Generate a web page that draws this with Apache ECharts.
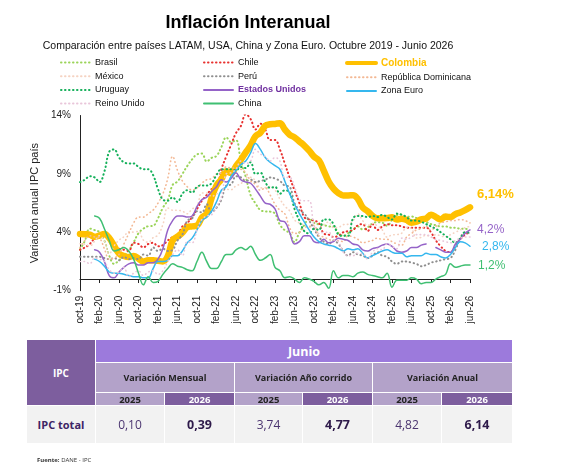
<!DOCTYPE html>
<html>
<head>
<meta charset="utf-8">
<script src="https://cdn.jsdelivr.net/npm/echarts@6/dist/echarts.min.js"></script>
<style>
  body { margin: 0; background: #fff; }
  #wrap { position: relative; width: 562px; height: 475px; overflow: hidden; background: #fff; }
  #chart { position: absolute; left: 0; top: 0; width: 562px; height: 338px; }
  #table { position: absolute; left: 0; top: 0; width: 562px; height: 475px; font-family: "Open Sans", "Noto Sans", sans-serif; }
  .c { position: absolute; display: flex; align-items: center; justify-content: center; box-sizing: border-box; white-space: nowrap; }
  #fuente { position: absolute; left: 37px; top: 456px; font-size: 6px; color: #333; font-family: "Open Sans", sans-serif; }
</style>
</head>
<body>
<div id="wrap">
  <div id="chart"></div>
  <div id="table"></div>
  <div id="fuente"><b>Fuente:</b> DANE - IPC</div>
</div>
<script>
// ---- data (oct-19 .. jun-26, monthly) ----
var monthNames = ['ene', 'feb', 'mar', 'abr', 'may', 'jun', 'jul', 'ago', 'sep', 'oct', 'nov', 'dic'];
var categories = [];
for (var y = 2019; y <= 2026; y++) {
    for (var m = 0; m < 12; m++) {
        if ((y === 2019 && m < 9) || (y === 2026 && m > 5)) continue;
        categories.push(monthNames[m] + '-' + String(y).slice(2));
    }
}

var brasil = [2.54, 3.27, 4.31,
    4.19, 4.01, 3.30, 2.00, 1.30, 1.60, 2.00, 2.44, 3.14, 3.92, 4.31, 4.52,
    4.56, 5.20, 6.10, 6.76, 8.06, 8.35, 8.99, 9.68, 10.25, 10.67, 10.74, 10.06,
    10.38, 10.54, 11.30, 12.13, 11.73, 11.89, 10.07, 8.73, 7.17, 6.47, 5.90, 5.79,
    5.77, 5.60, 4.65, 4.18, 3.94, 3.16, 3.99, 4.61, 5.19, 4.82, 4.68, 4.62,
    4.51, 4.50, 3.93, 3.69, 3.93, 4.23, 4.50, 4.24, 4.42, 4.76, 4.87, 4.83,
    4.56, 5.06, 5.48, 5.53, 5.32, 5.35, 5.23, 5.13, 4.90, 4.70, 4.60, 4.50,
    4.50, 4.40, 4.40, 4.30, 4.30, 4.20];
var chile = [2.5, 2.7, 3.0,
    3.5, 3.9, 3.7, 3.4, 2.8, 2.6, 2.5, 2.4, 3.1, 3.0, 2.7, 3.0,
    3.1, 2.8, 2.9, 3.3, 3.6, 3.8, 4.5, 4.8, 5.3, 6.0, 6.7, 7.2,
    7.7, 7.8, 9.4, 10.5, 11.5, 12.5, 13.1, 14.1, 13.7, 12.8, 13.3, 12.8,
    11.9, 11.9, 11.1, 9.9, 8.7, 7.6, 6.5, 5.3, 5.1, 5.0, 4.8, 3.9,
    3.8, 3.6, 3.7, 4.0, 4.1, 4.2, 4.6, 4.7, 4.1, 4.7, 4.2, 4.5,
    4.7, 4.6, 4.6, 4.5, 4.4, 4.4, 4.4, 4.4, 4.4, 4.0, 3.3, 2.8,
    2.4, 2.3, 2.8, 3.4, 3.8, 4.0];
var colombia = [3.86, 3.84, 3.80,
    3.62, 3.72, 3.86, 3.51, 2.85, 2.19, 1.97, 1.88, 1.97, 1.75, 1.49, 1.61,
    1.60, 1.56, 1.51, 1.95, 3.30, 3.63, 3.97, 4.44, 4.51, 4.58, 5.26, 5.62,
    6.94, 8.01, 8.53, 9.23, 9.07, 9.67, 10.21, 10.84, 11.44, 12.22, 12.53, 13.12,
    13.25, 13.28, 13.34, 12.82, 12.36, 12.13, 11.78, 11.43, 10.99, 10.48, 10.15, 9.28,
    8.35, 7.74, 7.36, 7.16, 7.16, 7.18, 6.86, 6.12, 5.81, 5.41, 5.20, 5.20,
    5.22, 5.28, 5.09, 5.16, 5.05, 4.82, 4.90, 5.10, 5.18, 5.51, 5.30, 5.10,
    5.35, 5.30, 5.55, 5.70, 5.90, 6.14];
var mexico = [3.02, 2.97, 2.83,
    3.24, 3.70, 3.25, 2.15, 2.84, 3.33, 3.62, 4.05, 4.01, 4.09, 3.33, 3.15,
    3.54, 3.76, 4.67, 6.08, 5.89, 5.88, 5.81, 5.59, 6.00, 6.24, 7.37, 7.36,
    7.07, 7.28, 7.45, 7.68, 7.65, 7.99, 8.15, 8.70, 8.70, 8.41, 7.80, 7.82,
    7.91, 7.62, 6.85, 6.25, 5.84, 5.06, 4.79, 4.64, 4.45, 4.26, 4.32, 4.66,
    4.88, 4.40, 4.42, 4.65, 4.69, 4.98, 5.57, 4.99, 4.58, 4.76, 4.55, 4.21,
    3.59, 3.77, 3.80, 3.93, 4.42, 4.32, 3.51, 3.57, 3.76, 3.57, 3.80, 3.69,
    3.60, 3.80, 4.00, 4.20, 4.40, 4.50];
var peru = [1.9, 1.9, 1.9,
    1.9, 1.9, 1.8, 1.7, 1.8, 1.6, 1.9, 1.7, 1.8, 1.7, 2.1, 2.0,
    2.7, 2.4, 2.6, 2.4, 2.5, 3.3, 3.8, 5.0, 5.2, 5.8, 5.7, 6.4,
    5.7, 6.1, 6.8, 8.0, 8.1, 8.8, 8.7, 8.4, 8.5, 8.3, 8.4, 8.5,
    8.7, 8.6, 8.4, 8.0, 7.9, 6.5, 5.9, 5.6, 5.0, 4.3, 3.6, 3.2,
    3.0, 3.3, 3.0, 2.4, 2.0, 2.3, 2.1, 2.0, 1.8, 2.0, 2.3, 2.0,
    1.9, 1.5, 1.3, 1.5, 1.5, 1.4, 1.3, 1.1, 1.2, 1.4, 1.5, 1.6,
    1.7, 1.8, 2.5, 3.5, 4.0, 3.9];
var repDominicana = [2.7, 3.3, 3.7,
    3.6, 3.5, 2.6, 1.7, 1.8, 2.1, 3.0, 3.9, 4.8, 5.3, 5.3, 5.6,
    5.9, 6.5, 7.3, 8.6, 10.5, 9.3, 8.4, 7.9, 7.6, 7.8, 8.2, 8.5,
    8.6, 9.0, 9.1, 9.6, 9.5, 9.5, 9.4, 9.1, 8.4, 8.1, 7.6, 7.8,
    7.2, 6.4, 5.9, 5.6, 4.4, 3.9, 4.0, 4.4, 4.5, 4.6, 3.7, 3.6,
    3.4, 3.3, 3.3, 3.2, 3.7, 3.6, 3.4, 3.1, 3.2, 3.3, 3.5, 3.4,
    3.4, 3.2, 3.0, 2.9, 3.6, 3.9, 4.2, 4.3, 4.5, 4.2, 4.5, 4.8,
    4.9, 5.0, 5.0, 5.1, 5.0, 4.8];
var uruguay = [8.3, 8.5, 8.8,
    8.7, 8.3, 9.2, 10.9, 11.1, 10.4, 10.0, 9.9, 9.9, 9.6, 9.4, 9.4,
    8.9, 7.7, 6.8, 6.7, 7.0, 6.6, 7.3, 7.6, 7.4, 7.9, 8.0, 8.0,
    8.2, 8.9, 9.4, 9.4, 9.4, 9.3, 9.6, 9.5, 10.0, 9.0, 9.1, 8.3,
    7.8, 7.9, 7.3, 7.6, 7.4, 6.0, 5.0, 4.1, 3.9, 4.3, 4.2, 5.1,
    5.1, 4.7, 3.8, 3.7, 3.7, 5.2, 5.4, 5.4, 5.3, 5.4, 5.3, 5.5,
    5.3, 5.1, 5.6, 5.5, 5.3, 5.0, 5.0, 4.9, 4.7, 4.5, 4.3, 4.0,
    3.7, 3.4, 3.1, 3.5, 4.0, 4.0];
var estadosUnidos = [null, null, null,
    2.5, 2.3, 1.5, 0.3, 0.1, 0.6, 1.0, 1.3, 1.4, 1.2, 1.2, 1.4,
    1.4, 1.7, 2.6, 4.2, 5.0, 5.4, 5.4, 5.3, 5.4, 6.2, 6.8, 7.0,
    7.5, 7.9, 8.5, 8.3, 8.6, 9.1, 8.5, 8.3, 8.2, 7.7, 7.1, 6.5,
    6.4, 6.0, 5.0, 4.9, 4.0, 3.0, 3.2, 3.7, 3.7, 3.2, 3.1, 3.4,
    3.1, 3.2, 3.5, 3.4, 3.3, 3.0, 2.9, 2.5, 2.4, 2.6, 2.7, 2.9,
    3.0, 2.8, 2.4, 2.3, 2.4, 2.7, 2.7, 2.9, 3.0, null, 2.7, 2.5,
    2.3, 2.3, 3.0, 3.4, 3.9, 4.2];
var zonaEuro = [null, null, null,
    1.7, 1.5, 1.1, 0.6, 0.5, 0.5, 0.4, 0.3, 0.2, 0.2, 0.1, 0.1,
    0.9, 1.5, 1.5, 1.6, 2.0, 2.0, 2.4, 3.1, 3.5, 4.2, 5.0, 5.3,
    5.8, 6.6, 7.6, 7.9, 8.8, 9.3, 9.8, 10.1, 10.8, 11.6, 11.1, 10.4,
    10.0, 9.7, 9.4, 8.4, 7.3, 6.4, 5.6, 4.9, 4.2, 3.6, 3.2, 3.0,
    2.9, 2.8, 2.6, 2.4, 2.6, 2.5, 2.6, 2.2, 1.8, 2.0, 2.2, 2.4,
    2.5, 2.3, 2.2, 2.2, 1.9, 2.0, 2.0, 2.0, 2.2, 2.1, 2.1, 1.9,
    1.8, 2.1, 2.7, 3.2, 3.1, 2.8];
var reinoUnido = [1.5, 1.5, 1.3,
    1.8, 1.7, 1.5, 0.8, 0.5, 0.6, 1.0, 0.2, 0.5, 0.7, 0.3, 0.6,
    0.7, 0.4, 0.7, 1.5, 2.1, 2.5, 2.0, 3.2, 3.1, 4.2, 5.1, 5.4,
    5.5, 6.2, 7.0, 9.0, 9.1, 9.4, 10.1, 9.9, 10.1, 11.1, 10.7, 10.5,
    10.1, 10.4, 10.1, 8.7, 8.7, 7.9, 6.8, 6.7, 6.7, 4.6, 3.9, 4.0,
    4.0, 3.4, 3.2, 2.3, 2.0, 2.0, 2.2, 2.2, 1.7, 2.3, 2.6, 2.5,
    3.0, 2.8, 2.6, 3.5, 3.4, 3.6, 3.8, 3.8, 3.8, 3.6, 3.4, 3.3,
    3.2, 3.1, 3.3, 3.5, 3.6, 3.6];
var china = [null, null, null,
    5.4, 5.2, 4.3, 3.3, 2.4, 2.5, 2.7, 2.4, 1.7, 0.5, -0.5, 0.2,
    -0.3, -0.2, 0.4, 0.9, 1.3, 1.1, 1.0, 0.8, 0.7, 1.5, 2.3, 1.5,
    0.9, 0.9, 1.5, 2.1, 2.1, 2.5, 2.7, 2.5, 2.8, 2.1, 1.6, 1.8,
    2.1, 1.0, 0.7, 0.1, 0.2, 0.0, -0.3, 0.1, 0.0, -0.2, -0.5, -0.3,
    -0.8, 0.7, 0.1, 0.3, 0.3, 0.2, 0.5, 0.6, 0.4, 0.3, 0.2, 0.1,
    0.5, -0.7, -0.1, -0.1, -0.1, 0.1, 0.0, -0.4, -0.3, -0.3, 0.0, 0.2,
    0.4, 1.3, 1.0, 1.1, 1.2, 1.2];

// table data
var tableGroups = ['Variación Mensual', 'Variación Año corrido', 'Variación Anual'];
var tableYears = ['2025', '2026'];
var tableValues = ['0,10', '0,39', '3,74', '4,77', '4,82', '6,14'];

// ---- chart ----
var font = '"Liberation Sans", Arial, sans-serif';
var dots = [0.5, 3.5];

var seriesDefs = [
    { name: 'Brasil', data: brasil, color: '#9BD45A', type: dots, width: 2 },
    { name: 'Chile', data: chile, color: '#E8312F', type: dots, width: 2 },
    { name: 'Colombia', data: colombia, color: '#FFC000', type: 'solid', width: 6.5, label: 2, off: [7, -13], fs: 13, bold: true },
    { name: 'México', data: mexico, color: '#F5D3C2', type: dots, width: 1.6 },
    { name: 'Perú', data: peru, color: '#8F8F8F', type: dots, width: 2 },
    { name: 'República Dominicana', data: repDominicana, color: '#F3B894', type: dots, width: 1.6 },
    { name: 'Uruguay', data: uruguay, color: '#14B05A', type: dots, width: 2 },
    { name: 'Estados Unidos', data: estadosUnidos, color: '#9563C8', type: 'solid', width: 1.5, label: 1, off: [7, 0], fs: 12 },
    { name: 'Zona Euro', data: zonaEuro, color: '#35B7EE', type: 'solid', width: 1.5, label: 1, off: [12, 0], fs: 12 },
    { name: 'Reino Unido', data: reinoUnido, color: '#E9C6DA', type: dots, width: 1.6 },
    { name: 'China', data: china, color: '#3FBF72', type: 'solid', width: 1.5, label: 1, off: [8, 1], fs: 12 }
];

var seriesList = [];
seriesDefs.forEach(function (d) {
    var s = {
        type: 'line',
        name: d.name,
        data: d.data,
        smooth: 0.4,
        symbol: 'none',
        showSymbol: false,
        connectNulls: false,
        color: d.color,
        lineStyle: { color: d.color, type: d.type, width: d.width, cap: 'round' },
        silent: true
    };
    if (d.label) {
        s.endLabel = {
            show: true,
            distance: 0,
            offset: d.off,
            color: d.color,
            fontFamily: font,
            fontSize: d.fs,
            fontWeight: d.bold ? 'bold' : 'normal',
            formatter: (function (dec) {
                return function (p) {
                    return Number(p.value).toFixed(dec).replace('.', ',') + '%';
                };
            })(d.label)
        };
    }
    seriesList.push(s);
});

function legendCol(names, left) {
    return {
        orient: 'vertical',
        left: left,
        top: 53,
        itemWidth: 29,
        itemHeight: 10,
        itemGap: 4.7,
        selectedMode: false,
        itemStyle: { opacity: 0 },
        lineStyle: { cap: 'round' },
        textStyle: { fontFamily: font, fontSize: 9, color: '#111' },
        data: names.map(function (n) {
            if (n === 'Colombia') {
                return { name: n, lineStyle: { width: 4 }, textStyle: { color: '#FFC000', fontWeight: 'bold', fontSize: 10 } };
            }
            if (n === 'Estados Unidos') {
                return { name: n, textStyle: { color: '#7030A0', fontWeight: 'bold', fontSize: 9 } };
            }
            return n;
        })
    };
}

var chart = echarts.init(document.getElementById('chart'));
var option = {
    animation: false,
    backgroundColor: '#fff',
    graphic: [
        { type: 'text', x: 248, y: 23, style: { text: 'Inflación Interanual', font: 'bold 18px ' + font, fill: '#000', textAlign: 'center', textVerticalAlign: 'middle' } },
        { type: 'text', x: 248, y: 46, style: { text: 'Comparación entre países LATAM, USA, China y Zona Euro. Octubre 2019 - Junio 2026', font: '10.5px ' + font, fill: '#111', textAlign: 'center', textVerticalAlign: 'middle' } }
    ],
    legend: [
        legendCol(['Brasil', 'México', 'Uruguay', 'Reino Unido'], 55),
        legendCol(['Chile', 'Perú', 'Estados Unidos', 'China'], 198),
        legendCol(['Colombia', 'República Dominicana', 'Zona Euro'], 340)
    ],
    grid: { left: 80, right: 92, top: 115.5, bottom: 338 - 290.7 },
    xAxis: [
        {
            type: 'category',
            data: categories,
            boundaryGap: false,
            position: 'bottom',
            axisLine: { show: false, onZero: false },
            axisTick: { show: false },
            axisLabel: { interval: 3, rotate: 90, margin: 5, fontFamily: font, fontSize: 10, color: '#222' }
        },
        {
            type: 'category',
            data: categories,
            boundaryGap: false,
            position: 'bottom',
            axisLine: { show: true, onZero: true, lineStyle: { color: '#222', width: 1 } },
            axisTick: { show: true, interval: 3, length: 4, lineStyle: { color: '#222' } },
            axisLabel: { show: false }
        }
    ],
    yAxis: {
        type: 'value',
        min: -1,
        max: 14,
        interval: 5,
        name: 'Variación anual IPC país',
        nameLocation: 'middle',
        nameGap: 36,
        nameTextStyle: { fontFamily: font, fontSize: 11, color: '#222' },
        axisLine: { show: true, lineStyle: { color: '#222', width: 1 } },
        axisTick: { show: false },
        splitLine: { show: false },
        axisLabel: { formatter: '{value}%', margin: 9, fontFamily: font, fontSize: 10, color: '#222' }
    },
    series: seriesList
};
chart.setOption(option);

// ---- table ----
var colX = [27, 96, 165, 235, 303, 373, 442, 512];
var tbl = document.getElementById('table');
function cell(x0, x1, y0, y1, bg, html, css) {
    var d = document.createElement('div');
    d.className = 'c';
    d.style.left = x0 + 'px';
    d.style.top = y0 + 'px';
    d.style.width = (x1 - x0 - 1) + 'px';
    d.style.height = (y1 - y0 - 1) + 'px';
    d.style.background = bg;
    d.style.cssText += css || '';
    d.innerHTML = html;
    tbl.appendChild(d);
}
var dark = '#7D5E9E', light = '#B3A2C9', bright = '#9C7ADC';
cell(colX[0], colX[1], 340, 406, dark, 'IPC', 'color:#fff;font-weight:bold;font-size:10px;');
cell(colX[1], colX[7] + 1, 340, 363, bright, 'Junio', 'color:#fff;font-weight:bold;font-size:12.5px;');
tableGroups.forEach(function (g, k) {
    cell(colX[1 + 2 * k], colX[3 + 2 * k] + (k === 2 ? 1 : 0), 363, 393, light, g, 'color:#222;font-weight:bold;font-size:9px;');
    tableYears.forEach(function (yr, j) {
        var isNew = j === 1;
        cell(colX[1 + 2 * k + j], colX[2 + 2 * k + j] + (k === 2 && j === 1 ? 1 : 0), 393, 406, isNew ? dark : light, yr,
            'color:' + (isNew ? '#fff' : '#222') + ';font-weight:bold;font-size:9.5px;');
    });
});
cell(colX[0], colX[1], 406, 444, '#F2F2F2', 'IPC total', 'color:#3D2566;font-weight:bold;font-size:11px;');
tableValues.forEach(function (v, i) {
    var bold = i % 2 === 1;
    cell(colX[1 + i], colX[2 + i] + (i === 5 ? 1 : 0), 406, 444, '#F2F2F2', v,
        'color:' + (bold ? '#2E1A4A' : '#4B3570') + ';font-weight:' + (bold ? 'bold' : 'normal') + ';font-size:' + (bold ? '12.5px' : '12px') + ';');
});
</script>
</body>
</html>
